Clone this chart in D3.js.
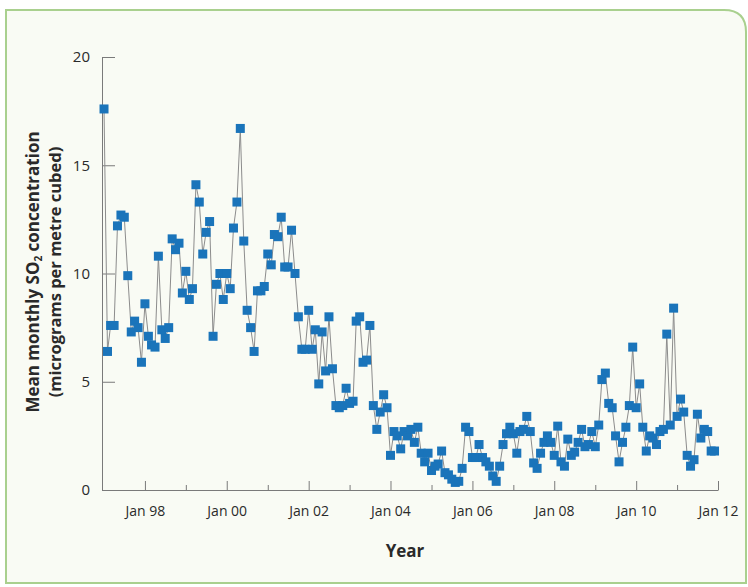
<!DOCTYPE html>
<html>
<head>
<meta charset="utf-8">
<script src="https://cdn.jsdelivr.net/npm/d3@7"></script>
<style>
  body { margin: 0; background: #fff; }
  svg { display: block; }
  text { font-family: "Open Sans", "Noto Sans", sans-serif; fill: #2a2a2a; }
</style>
</head>
<body>
<svg width="748" height="587"></svg>
<script>
// monthly mean SO2, one array per year (Jan..Dec)
var v1997 = [17.6, 6.4, 7.6, 7.6, 12.2, 12.7, 12.6, 9.9, 7.3, 7.8, 7.5, 5.9];
var v1998 = [8.6, 7.1, 6.7, 6.6, 10.8, 7.4, 7.0, 7.5, 11.6, 11.1, 11.4, 9.1];
var v1999 = [10.1, 8.8, 9.3, 14.1, 13.3, 10.9, 11.9, 12.4, 7.1, 9.5, 10.0, 8.8];
var v2000 = [10.0, 9.3, 12.1, 13.3, 16.7, 11.5, 8.3, 7.5, 6.4, 9.2, 9.2, 9.4];
var v2001 = [10.9, 10.4, 11.8, 11.7, 12.6, 10.3, 10.3, 12.0, 10.0, 8.0, 6.5, 6.5];
var v2002 = [8.3, 6.5, 7.4, 4.9, 7.3, 5.5, 8.0, 5.6, 3.9, 3.8, 3.9, 4.7];
var v2003 = [4.0, 4.1, 7.8, 8.0, 5.9, 6.0, 7.6, 3.9, 2.8, 3.6, 4.4, 3.8];
var v2004 = [1.6, 2.7, 2.5, 1.9, 2.7, 2.5, 2.8, 2.2, 2.9, 1.7, 1.3, 1.7];
var v2005 = [0.9, 1.1, 1.2, 1.8, 0.8, 0.7, 0.5, 0.35, 0.4, 1.0, 2.9, 2.7];
var v2006 = [1.5, 1.5, 2.1, 1.5, 1.3, 1.1, 0.65, 0.4, 1.1, 2.1, 2.6, 2.9];
var v2007 = [2.6, 1.7, 2.7, 2.8, 3.4, 2.7, 1.25, 1.0, 1.7, 2.2, 2.5, 2.2];
var v2008 = [1.6, 2.95, 1.3, 1.1, 2.35, 1.6, 1.75, 2.2, 2.8, 2.0, 2.1, 2.7];
var v2009 = [2.0, 3.0, 5.1, 5.4, 4.0, 3.8, 2.5, 1.3, 2.2, 2.9, 3.9, 6.6];
var v2010 = [3.8, 4.9, 2.9, 1.8, 2.5, 2.4, 2.1, 2.7, 2.8, 7.2, 3.0, 8.4];
var v2011 = [3.4, 4.2, 3.6, 1.6, 1.1, 1.4, 3.5, 2.4, 2.8, 2.7, 1.8, 1.8];

var years = [1997, 1998, 1999, 2000, 2001, 2002, 2003, 2004, 2005, 2006, 2007, 2008, 2009, 2010, 2011];
var yearValues = [v1997, v1998, v1999, v2000, v2001, v2002, v2003, v2004, v2005, v2006, v2007, v2008, v2009, v2010, v2011];

var yTicks = [0, 5, 10, 15, 20];
var xTickLabels = ['Jan 98', 'Jan 00', 'Jan 02', 'Jan 04', 'Jan 06', 'Jan 08', 'Jan 10', 'Jan 12'];

// flatten into {date, value}
var data = [];
years.forEach(function(yr, i) {
    yearValues[i].forEach(function(v, m) {
        data.push({date: new Date(yr, m, 1), value: v});
    });
});

var svg = d3.select('svg');

// background panel
svg.append('path')
    .attr('d', 'M6,10 H724 Q746,10 746,32 V583 H6 Z')
    .attr('fill', '#f9fbf4')
    .attr('stroke', '#a9d08e')
    .attr('stroke-width', 2);

var x = d3.scaleTime()
    .domain([new Date(1996, 11, 14), new Date(2012, 0, 1)])
    .range([102, 718]);

var y = d3.scaleLinear()
    .domain([0, 20])
    .range([490, 57]);

// y axis
var yAxis = svg.append('g')
    .attr('transform', 'translate(102,0)')
    .call(d3.axisLeft(y).tickValues(yTicks).tickSize(-13).tickSizeOuter(0).tickPadding(12));
yAxis.selectAll('line, path').attr('stroke', '#7a7a7a');
yAxis.selectAll('text').style('font-size', '15px').attr('fill', '#2a2a2a');

// x axis: minor ticks on odd years
var minorDates = d3.timeYear.range(new Date(1999, 0, 1), new Date(2012, 0, 1), 2);
var majorDates = xTickLabels.map(function(d, i) { return new Date(1998 + 2 * i, 0, 1); });

var xMinor = svg.append('g')
    .attr('transform', 'translate(0,490)')
    .call(d3.axisBottom(x).tickValues(minorDates).tickSize(-5).tickFormat(''));
xMinor.select('.domain').remove();
xMinor.selectAll('line').attr('stroke', '#7a7a7a');

var xAxis = svg.append('g')
    .attr('transform', 'translate(0,490)')
    .call(d3.axisBottom(x).tickValues(majorDates).tickSize(-9).tickSizeOuter(0).tickPadding(16)
        .tickFormat(function(d, i) { return xTickLabels[i]; }));
xAxis.selectAll('line, path').attr('stroke', '#7a7a7a');
xAxis.selectAll('text').style('font-size', '14px').attr('fill', '#2a2a2a');

// line
var line = d3.line()
    .x(function(d) { return x(d.date); })
    .y(function(d) { return y(d.value); });

svg.append('path')
    .datum(data)
    .attr('d', line)
    .attr('fill', 'none')
    .attr('stroke', '#8c8c8c')
    .attr('stroke-width', 1);

// square markers
var s = 9;
svg.selectAll('.pt')
    .data(data)
    .enter()
    .append('rect')
    .attr('class', 'pt')
    .attr('x', function(d) { return x(d.date) - s / 2; })
    .attr('y', function(d) { return y(d.value) - s / 2; })
    .attr('width', s)
    .attr('height', s)
    .attr('fill', '#1a74ba');

// axis titles
svg.append('text')
    .attr('x', 405)
    .attr('y', 557)
    .attr('text-anchor', 'middle')
    .style('font-size', '17px')
    .style('font-weight', 'bold')
    .text('Year');

var yt = svg.append('g')
    .attr('transform', 'translate(33,272) rotate(-90)');
var l1 = yt.append('text')
    .attr('text-anchor', 'middle')
    .attr('y', 6)
    .style('font-size', '17px')
    .style('font-weight', 'bold');
l1.append('tspan').text('Mean monthly SO');
l1.append('tspan').attr('dy', 3).style('font-size', '10px').text('2');
l1.append('tspan').attr('dy', -3).text(' concentration');

yt.append('text')
    .attr('text-anchor', 'middle')
    .attr('y', 28)
    .style('font-size', '16.5px')
    .style('font-weight', 'bold')
    .text('(micrograms per metre cubed)');
</script>
</body>
</html>
